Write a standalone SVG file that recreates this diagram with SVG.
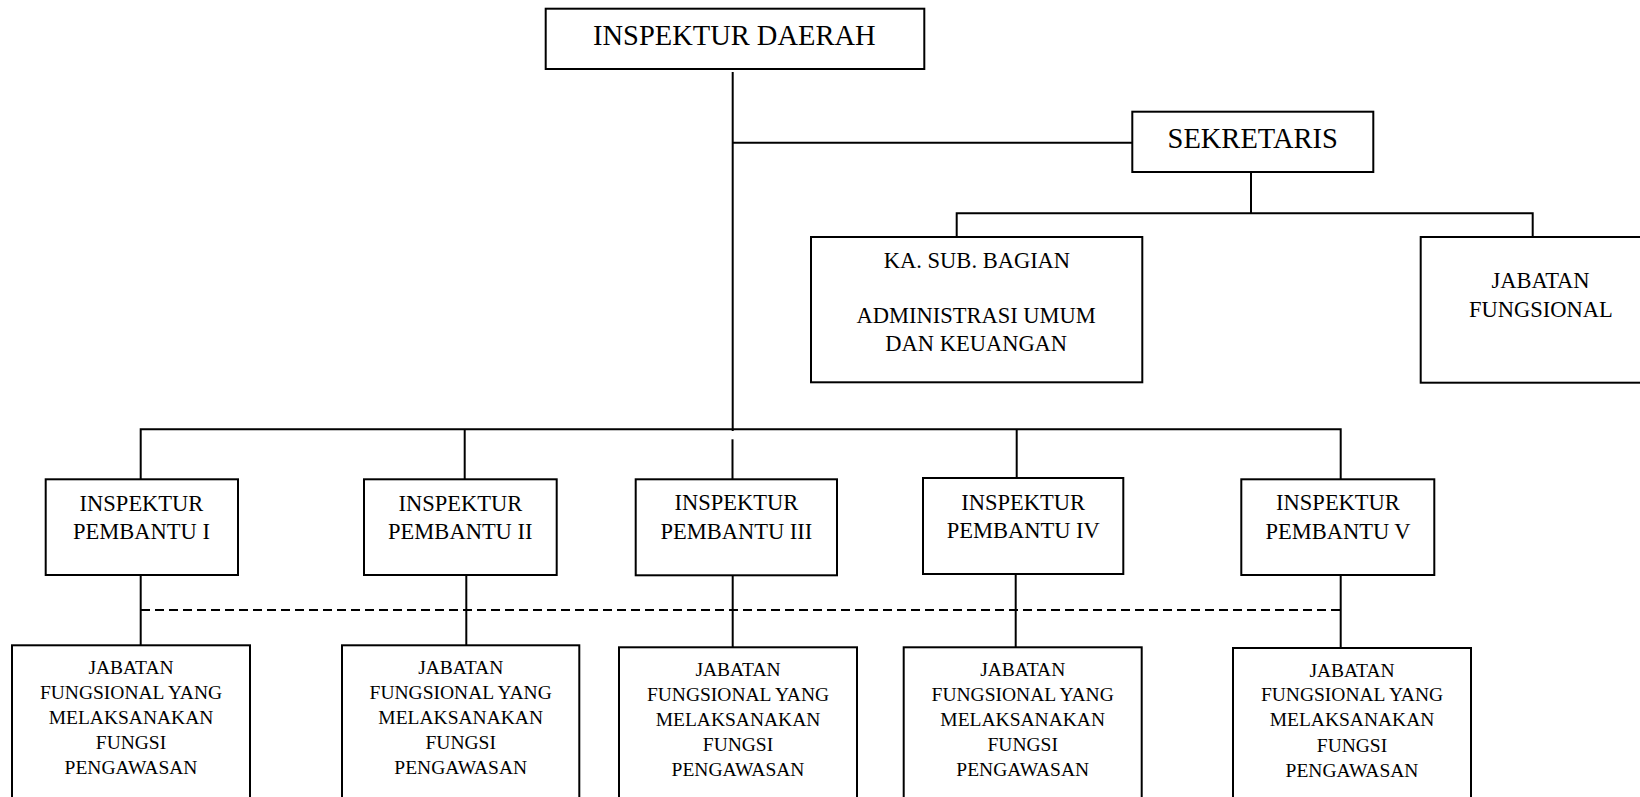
<svg xmlns="http://www.w3.org/2000/svg" width="1640" height="797" viewBox="0 0 1640 797">
<style>
.box{fill:#fff;stroke:#000;stroke-width:2}
.ln{fill:none;stroke:#000;stroke-width:2}
.dash{stroke-dasharray:9 5}
text{font-family:"Liberation Serif","Times New Roman",serif;fill:#000;text-anchor:middle}
.t1{font-size:28.5px}
.t2{font-size:22.5px}
.t3{font-size:19.5px}
</style>
<rect width="1640" height="797" fill="#fff"/>
<g id="connectors">
<path class="ln" d="M732.7 72V431"/>
<path class="ln" d="M732.7 142.7H1132.3"/>
<path class="ln" d="M1251 172V213.3"/>
<path class="ln" d="M956.7 237V213.3H1532.7V237"/>
<path class="ln" d="M140.7 479.3V429.3H1340.7V479.3"/>
<path class="ln" d="M464.7 429.3V479.3"/>
<path class="ln" d="M732.5 439.3V479.3"/>
<path class="ln" d="M1016.7 429.3V478"/>
<path class="ln" d="M140.7 575V645.3"/>
<path class="ln" d="M466.3 575V645.3"/>
<path class="ln" d="M732.7 575V647.3"/>
<path class="ln" d="M1015.7 574V647.3"/>
<path class="ln" d="M1340.7 575V648"/>
<path class="ln dash" d="M141 610H1340"/>
</g>
<g id="inspektur-daerah">
<rect class="box" x="545.7" y="8.7" width="378.6" height="60.3"/>
<text class="t1" x="734.3" y="45">INSPEKTUR DAERAH</text>
</g>
<g id="sekretaris">
<rect class="box" x="1132.3" y="111.7" width="241" height="60.3"/>
<text class="t1" x="1252.7" y="147.5">SEKRETARIS</text>
</g>
<g id="kasubag">
<rect class="box" x="811" y="237" width="331.3" height="145.3"/>
<text class="t2" x="977" y="268.3">KA. SUB. BAGIAN</text>
<text class="t2" x="976.2" y="322.7">ADMINISTRASI UMUM</text>
<text class="t2" x="976.2" y="351">DAN KEUANGAN</text>
</g>
<g id="jabatan-fungsional">
<rect class="box" x="1420.7" y="237" width="240" height="145.7"/>
<text class="t2" x="1540.5" y="287.7">JABATAN</text>
<text class="t2" x="1540.8" y="316.7">FUNGSIONAL</text>
</g>
<g id="ip1">
<rect class="box" x="45.7" y="479.3" width="192.3" height="95.7"/>
<text class="t2" x="141.5" y="510.7">INSPEKTUR</text>
<text class="t2" x="141.5" y="539.3">PEMBANTU I</text>
</g>
<g id="ip2">
<rect class="box" x="364" y="479.3" width="192.7" height="95.7"/>
<text class="t2" x="460.3" y="510.7">INSPEKTUR</text>
<text class="t2" x="460.3" y="539.3">PEMBANTU II</text>
</g>
<g id="ip3">
<rect class="box" x="635.7" y="479.3" width="201.3" height="96"/>
<text class="t2" x="736.4" y="510.3">INSPEKTUR</text>
<text class="t2" x="736.4" y="538.8">PEMBANTU III</text>
</g>
<g id="ip4">
<rect class="box" x="923" y="478" width="200.3" height="96"/>
<text class="t2" x="1023.2" y="509.5">INSPEKTUR</text>
<text class="t2" x="1023.2" y="538">PEMBANTU IV</text>
</g>
<g id="ip5">
<rect class="box" x="1241.3" y="479.3" width="193" height="95.7"/>
<text class="t2" x="1338" y="510.3">INSPEKTUR</text>
<text class="t2" x="1338" y="538.7">PEMBANTU V</text>
</g>
<g id="jf1">
<rect class="box" x="12" y="645.3" width="238" height="165"/>
<text class="t3" x="131" y="674">JABATAN</text>
<text class="t3" x="131" y="699.3">FUNGSIONAL YANG</text>
<text class="t3" x="131" y="724">MELAKSANAKAN</text>
<text class="t3" x="131" y="749.3">FUNGSI</text>
<text class="t3" x="131" y="774">PENGAWASAN</text>
</g>
<g id="jf2">
<rect class="box" x="342" y="645.3" width="237.3" height="165"/>
<text class="t3" x="460.7" y="674">JABATAN</text>
<text class="t3" x="460.7" y="699.3">FUNGSIONAL YANG</text>
<text class="t3" x="460.7" y="724">MELAKSANAKAN</text>
<text class="t3" x="460.7" y="749.3">FUNGSI</text>
<text class="t3" x="460.7" y="774">PENGAWASAN</text>
</g>
<g id="jf3">
<rect class="box" x="619" y="647.3" width="238" height="165"/>
<text class="t3" x="738" y="675.7">JABATAN</text>
<text class="t3" x="738" y="700.7">FUNGSIONAL YANG</text>
<text class="t3" x="738" y="725.7">MELAKSANAKAN</text>
<text class="t3" x="738" y="751">FUNGSI</text>
<text class="t3" x="738" y="776">PENGAWASAN</text>
</g>
<g id="jf4">
<rect class="box" x="903.7" y="647.3" width="238" height="165"/>
<text class="t3" x="1022.7" y="675.7">JABATAN</text>
<text class="t3" x="1022.7" y="700.7">FUNGSIONAL YANG</text>
<text class="t3" x="1022.7" y="725.7">MELAKSANAKAN</text>
<text class="t3" x="1022.7" y="751">FUNGSI</text>
<text class="t3" x="1022.7" y="776">PENGAWASAN</text>
</g>
<g id="jf5">
<rect class="box" x="1233" y="648" width="238" height="165"/>
<text class="t3" x="1352" y="676.7">JABATAN</text>
<text class="t3" x="1352" y="701">FUNGSIONAL YANG</text>
<text class="t3" x="1352" y="726.3">MELAKSANAKAN</text>
<text class="t3" x="1352" y="751.7">FUNGSI</text>
<text class="t3" x="1352" y="776.7">PENGAWASAN</text>
</g>
</svg>
